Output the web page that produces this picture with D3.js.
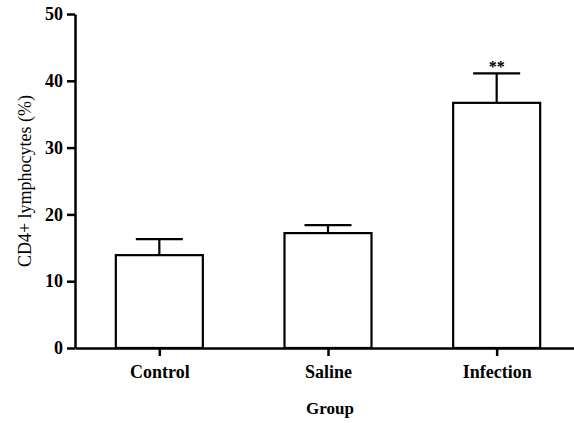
<!DOCTYPE html>
<html>
<head>
<meta charset="utf-8">
<script src="https://cdn.jsdelivr.net/npm/d3@7"></script>
<style>
  body { margin: 0; background: #fff; }
  text { font-family: "Liberation Serif", "DejaVu Serif", serif; fill: #000; }
</style>
</head>
<body>
<div id="chart"></div>
<script>
var groups = ['Control', 'Saline', 'Infection'];
var means = [13.9, 17.2, 36.7];
var errors = [2.4, 1.2, 4.4];
var marks = ['', '', '**'];
var yTicks = [0, 10, 20, 30, 40, 50];

var width = 574, height = 423;
var svg = d3.select('#chart').append('svg')
  .attr('width', width)
  .attr('height', height);

var x = d3.scalePoint().domain(groups).range([75, 581]).padding(0.5);
var y = d3.scaleLinear().domain([0, 50]).range([348, 14]);
var barW = 87;

// bars
svg.selectAll('rect.bar').data(groups)
  .enter().append('rect')
  .attr('class', 'bar')
  .attr('x', function (d) { return x(d) - barW / 2; })
  .attr('y', function (d, i) { return y(means[i]); })
  .attr('width', barW)
  .attr('height', function (d, i) { return y(0) - y(means[i]); })
  .attr('fill', '#fff')
  .attr('stroke', '#000')
  .attr('stroke-width', 2.2);

// error bars (upper only)
svg.selectAll('line.err').data(groups)
  .enter().append('line')
  .attr('x1', function (d) { return x(d); })
  .attr('x2', function (d) { return x(d); })
  .attr('y1', function (d, i) { return y(means[i]); })
  .attr('y2', function (d, i) { return y(means[i] + errors[i]); })
  .attr('stroke', '#000').attr('stroke-width', 2.2);

svg.selectAll('line.cap').data(groups)
  .enter().append('line')
  .attr('x1', function (d) { return x(d) - 23.5; })
  .attr('x2', function (d) { return x(d) + 23.5; })
  .attr('y1', function (d, i) { return y(means[i] + errors[i]); })
  .attr('y2', function (d, i) { return y(means[i] + errors[i]); })
  .attr('stroke', '#000').attr('stroke-width', 2.2);

svg.selectAll('text.mark').data(groups)
  .enter().append('text')
  .attr('x', function (d) { return x(d); })
  .attr('y', function (d, i) { return y(means[i] + errors[i]) - 1; })
  .attr('text-anchor', 'middle')
  .attr('font-size', 16)
  .attr('font-weight', 'bold')
  .text(function (d, i) { return marks[i]; });

// axes
var yAxis = d3.axisLeft(y).tickValues(yTicks).tickSize(8).tickPadding(4).tickSizeOuter(0);
var gy = svg.append('g').attr('transform', 'translate(75,0)').call(yAxis);
gy.select('.domain').attr('stroke-width', 2.5);
gy.selectAll('.tick line').attr('stroke-width', 2.5);
gy.selectAll('.tick text')
  .attr('font-family', '"Liberation Serif", serif')
  .attr('font-size', 18)
  .attr('font-weight', 'bold');

var xAxis = d3.axisBottom(x).tickSize(8).tickPadding(9).tickSizeOuter(0);
var gx = svg.append('g').attr('transform', 'translate(0,348)').call(xAxis);
gx.select('.domain').attr('stroke-width', 2.5);
gx.selectAll('.tick line').attr('stroke-width', 2.5);
gx.selectAll('.tick text')
  .attr('font-family', '"Liberation Serif", serif')
  .attr('font-size', 18)
  .attr('font-weight', 'bold');

// titles
svg.append('text')
  .attr('transform', 'translate(31,' + ((y(0) + y(50)) / 2) + ') rotate(-90)')
  .attr('text-anchor', 'middle')
  .attr('font-size', 18)
  .text('CD4+ lymphocytes (%)');

svg.append('text')
  .attr('x', x('Saline') + 2)
  .attr('y', 414)
  .attr('text-anchor', 'middle')
  .attr('font-size', 17)
  .attr('font-weight', 'bold')
  .text('Group');
</script>
</body>
</html>
